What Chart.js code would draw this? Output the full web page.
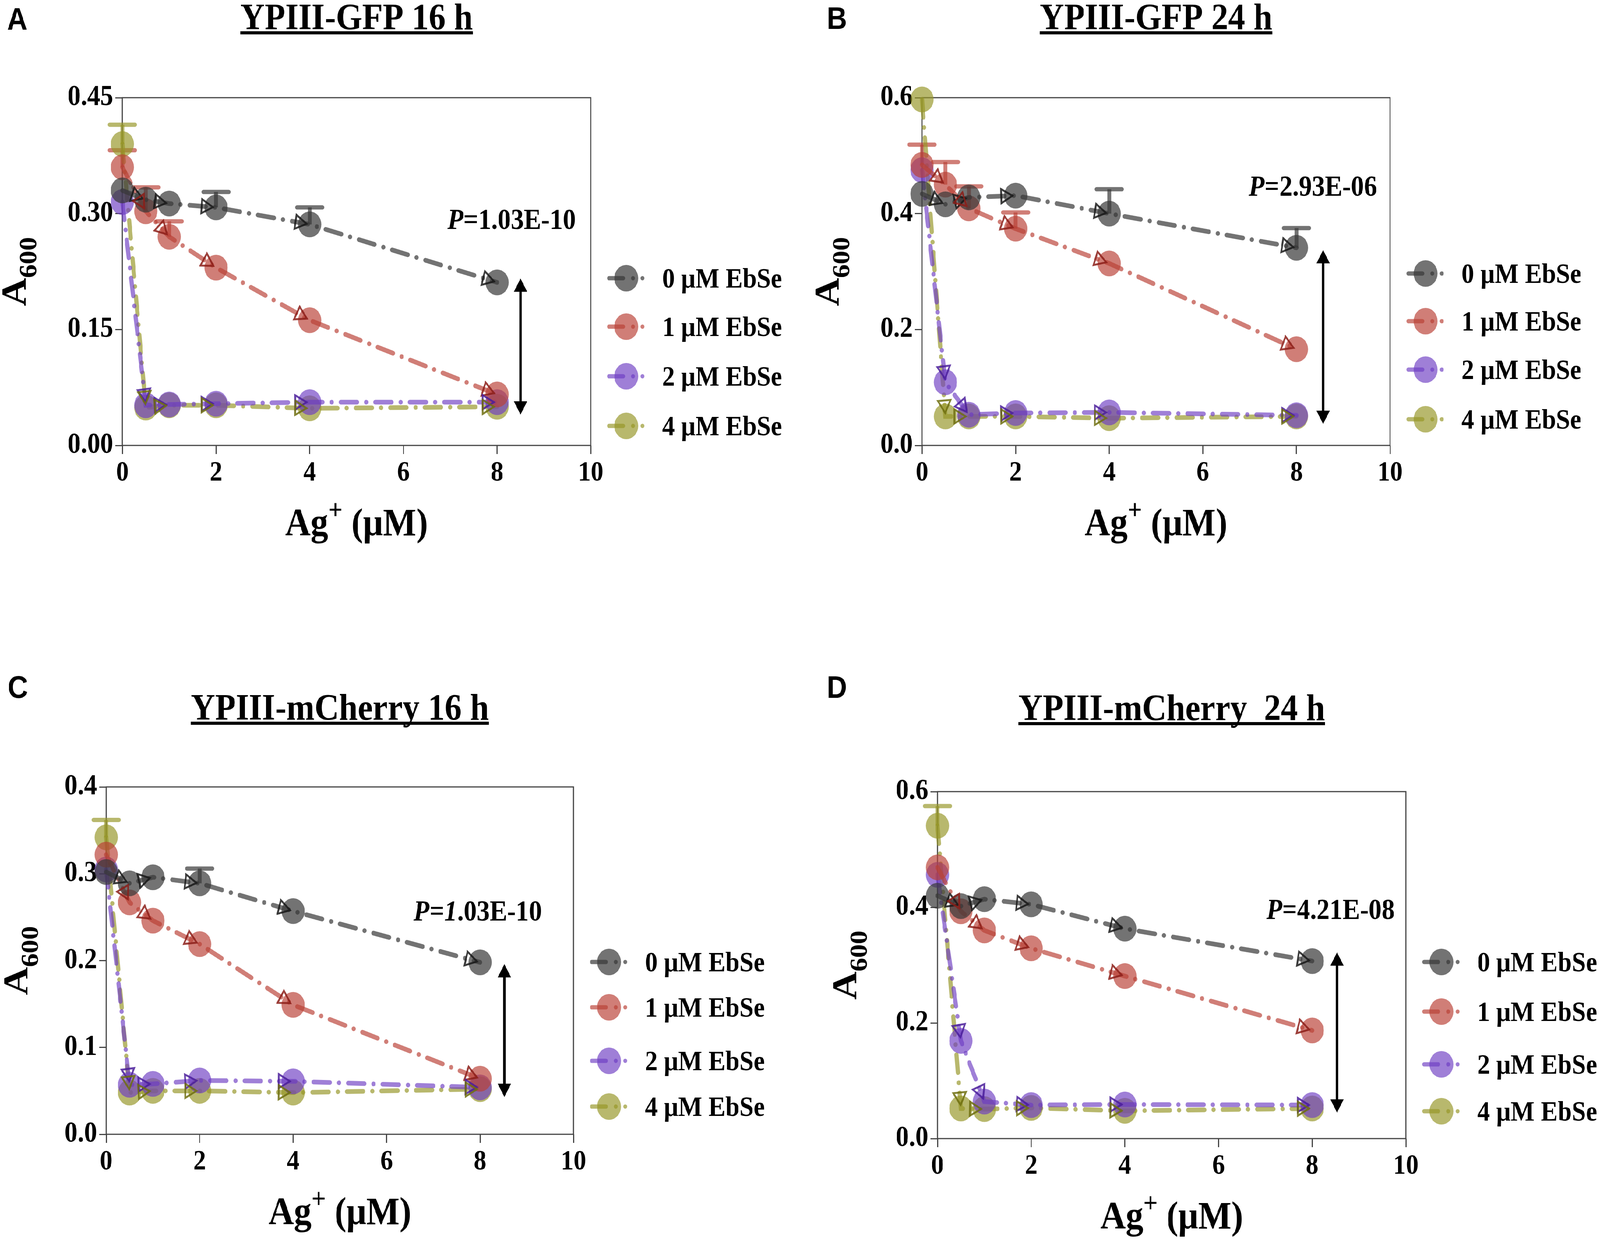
<!DOCTYPE html>
<html>
<head>
<meta charset="utf-8">
<script src="https://cdn.jsdelivr.net/npm/chart.js@4.4.1/dist/chart.umd.min.js"></script>
<style>
html,body{margin:0;padding:0;background:#fff;overflow:hidden}
#page{position:absolute;left:0;top:0;width:4550px;height:3171px;transform-origin:0 0;background:#fff}
.panel{position:absolute;width:2275px;height:1585px}
canvas{display:block}
</style>
</head>
<body>
<div id="page">
<div class="panel" style="left:0;top:0"><canvas id="cA" width="2275" height="1585"></canvas></div>
<div class="panel" style="left:2275px;top:0"><canvas id="cB" width="2275" height="1585"></canvas></div>
<div class="panel" style="left:0;top:1585px"><canvas id="cC" width="2275" height="1585"></canvas></div>
<div class="panel" style="left:2275px;top:1585px"><canvas id="cD" width="2275" height="1585"></canvas></div>
</div>
<script>
// fit the 4550x3171 composition into whatever viewport the page gets
(function () {
  const sx = (window.innerWidth || 4550) / 4550, sy = (window.innerHeight || 3171) / 3171;
  document.getElementById('page').style.transform = 'scale(' + sx + ',' + sy + ')';
})();

// ---------- data ----------
const agConc = [0, 0.5, 1, 2, 4, 8];
const xTicks = [0, 2, 4, 6, 8, 10];
const legendLabels = ['0 \u03bcM EbSe', '1 \u03bcM EbSe', '2 \u03bcM EbSe', '4 \u03bcM EbSe'];

// A: YPIII-GFP 16 h
const gfp16_0 = [0.330, 0.318, 0.313, 0.308, 0.286, 0.211];
const gfp16_1 = [0.360, 0.303, 0.270, 0.230, 0.162, 0.066];
const gfp16_2 = [0.315, 0.052, 0.053, 0.054, 0.056, 0.056];
const gfp16_4 = [0.390, 0.049, 0.052, 0.052, 0.048, 0.050];
const gfp16_err0 = [null, null, null, 0.020, 0.022, null];
const gfp16_err1 = [0.022, 0.031, 0.020, null, null, null];
const gfp16_err2 = [null, null, null, null, null, null];
const gfp16_err4 = [0.025, null, null, null, null, null];
const yTicksA = [0, 0.15, 0.30, 0.45];

// B: YPIII-GFP 24 h
const gfp24_0 = [0.434, 0.416, 0.428, 0.431, 0.400, 0.341];
const gfp24_1 = [0.484, 0.450, 0.409, 0.374, 0.314, 0.166];
const gfp24_2 = [0.475, 0.109, 0.053, 0.056, 0.057, 0.052];
const gfp24_4 = [0.597, 0.050, 0.050, 0.050, 0.047, 0.050];
const gfp24_err0 = [null, null, null, null, 0.042, 0.034];
const gfp24_err1 = [0.035, 0.039, 0.038, 0.028, null, null];
const gfp24_err2 = [null, null, null, null, null, null];
const gfp24_err4 = [null, null, null, null, null, null];
const yTicksB = [0, 0.2, 0.4, 0.6];

// C: YPIII-mCherry 16 h
const mch16_0 = [0.302, 0.289, 0.296, 0.289, 0.257, 0.198];
const mch16_1 = [0.322, 0.267, 0.246, 0.219, 0.149, 0.064];
const mch16_2 = [0.305, 0.057, 0.058, 0.062, 0.061, 0.054];
const mch16_4 = [0.342, 0.048, 0.050, 0.050, 0.048, 0.052];
const mch16_err0 = [null, null, null, 0.017, null, null];
const mch16_err1 = [null, null, null, null, null, null];
const mch16_err2 = [null, null, null, null, null, null];
const mch16_err4 = [0.020, null, null, null, null, null];
const yTicksC = [0, 0.1, 0.2, 0.3, 0.4];

// D: YPIII-mCherry 24 h
const mch24_0 = [0.420, 0.402, 0.414, 0.405, 0.363, 0.307];
const mch24_1 = [0.469, 0.393, 0.360, 0.329, 0.281, 0.187];
const mch24_2 = [0.456, 0.169, 0.064, 0.058, 0.059, 0.058];
const mch24_4 = [0.541, 0.052, 0.051, 0.053, 0.048, 0.052];
const mch24_err0 = [null, null, null, null, null, null];
const mch24_err1 = [null, null, null, null, null, null];
const mch24_err2 = [null, null, null, null, null, null];
const mch24_err4 = [0.034, null, null, null, null, null];
const yTicksD = [0, 0.2, 0.4, 0.6];

// P-value annotations (text, x, y in data units) and double arrows (x, top, bottom)
const pTexts = [['P', '=1.03E-10'], ['P', '=2.93E-06'], ['P=1', '.03E-10'], ['P', '=4.21E-08']];
const pAnchorX = [9.68, 9.72, 9.32, 9.76];
const pAnchorY = [0.280, 0.431, 0.246, 0.380];
const arrowX = [8.50, 8.57, 8.52, 8.53];
const arrowTop = [0.216, 0.337, 0.196, 0.322];
const arrowBottom = [0.040, 0.037, 0.043, 0.045];

// ---------- styles ----------
const seriesColors = ['rgba(55,55,55,0.70)', 'rgba(185,65,55,0.68)', 'rgba(110,60,195,0.66)', 'rgba(150,150,40,0.68)'];
const headColors = ['rgba(25,25,25,0.85)', 'rgba(140,30,25,0.85)', 'rgba(75,30,155,0.85)', 'rgba(110,110,15,0.85)'];
const SERIF = '"Liberation Serif", "Times New Roman", serif';
const DASH = [46, 26, 0.1, 26];

const panels = [
  {id:'cA', title:'YPIII-GFP 16 h', label:'A', series:[gfp16_0,gfp16_1,gfp16_2,gfp16_4], errs:[gfp16_err0,gfp16_err1,gfp16_err2,gfp16_err4], yTicks:yTicksA, dec:2,
   g:{L:348,R:1680,T:250,B:1140,titleY:75,labelX:20,labelY:76,yTitleX:73,legY:[712,836,963,1090]}},
  {id:'cB', title:'YPIII-GFP 24 h', label:'B', series:[gfp24_0,gfp24_1,gfp24_2,gfp24_4], errs:[gfp24_err0,gfp24_err1,gfp24_err2,gfp24_err4], yTicks:yTicksB, dec:1,
   g:{L:347,R:1678,T:250,B:1140,titleY:75,labelX:76,labelY:74,yTitleX:110,legY:[700,822,946,1073]}},
  {id:'cC', title:'YPIII-mCherry 16 h', label:'C', series:[mch16_0,mch16_1,mch16_2,mch16_4], errs:[mch16_err0,mch16_err1,mch16_err2,mch16_err4], yTicks:yTicksC, dec:1,
   g:{L:302,R:1631,T:429,B:1318,titleY:257,labelX:22,labelY:201,yTitleX:78,legY:[877,993,1130,1247]}},
  {id:'cD', title:'YPIII-mCherry_24 h', label:'D', series:[mch24_0,mch24_1,mch24_2,mch24_4], errs:[mch24_err0,mch24_err1,mch24_err2,mch24_err4], yTicks:yTicksD, dec:1,
   g:{L:391,R:1723,T:441,B:1329,titleY:258,labelX:76,labelY:201,yTitleX:160,legY:[877,1004,1139,1259]}}
];

function drawParts(ctx, parts, x, y, align) {
  let total = 0;
  parts.forEach(p => { ctx.font = p.font; p.w = ctx.measureText(p.t).width; total += p.w; });
  let cx = align === 'right' ? x - total : (align === 'center' ? x - total / 2 : x);
  parts.forEach(p => { ctx.font = p.font; ctx.textAlign = 'left'; ctx.textBaseline = 'alphabetic'; ctx.fillText(p.t, cx, y + (p.dy || 0)); cx += p.w; });
  return total;
}

const decor = {
  id: 'decor',
  beforeDatasetsDraw(chart, args, o) {
    const ctx = chart.ctx, ys = chart.scales.y, ca = chart.chartArea;
    ctx.save();
    ctx.strokeStyle = '#444'; ctx.lineWidth = 3;
    ctx.strokeRect(ca.left, ca.top, ca.right - ca.left, ca.bottom - ca.top);
    ctx.restore();
    chart.data.datasets.forEach((ds, di) => {
      const errs = o.errs[di]; const meta = chart.getDatasetMeta(di);
      ctx.save(); ctx.strokeStyle = ds.borderColor; ctx.lineWidth = 11;
      errs.forEach((e, i) => {
        if (e == null) return;
        const pt = meta.data[i];
        const ty = ys.getPixelForValue(ds.data[i].y + e);
        ctx.lineCap = 'butt';
        ctx.beginPath(); ctx.moveTo(pt.x, pt.y); ctx.lineTo(pt.x, ty); ctx.stroke();
        ctx.lineCap = 'round';
        ctx.beginPath(); ctx.moveTo(pt.x - 36, ty); ctx.lineTo(pt.x + 36, ty); ctx.stroke();
      });
      ctx.restore();
    });
  },
  afterDatasetsDraw(chart, args, o) {
    const ctx = chart.ctx, xs = chart.scales.x, ys = chart.scales.y;
    // arrowheads on each segment
    chart.data.datasets.forEach((ds, di) => {
      const meta = chart.getDatasetMeta(di);
      ctx.save(); ctx.strokeStyle = headColors[di]; ctx.lineWidth = 5; ctx.lineJoin = 'miter';
      for (let i = 0; i < meta.data.length - 1; i++) {
        const a = meta.data[i], b = meta.data[i + 1];
        const dx = b.x - a.x, dy = b.y - a.y, len = Math.hypot(dx, dy);
        if (len < 40) continue;
        const ux = dx / len, uy = dy / len, px = -uy, py = ux;
        const tx = b.x - ux * 9, ty = b.y - uy * 9;
        const bx = tx - ux * 32, by = ty - uy * 32;
        ctx.beginPath();
        ctx.moveTo(tx, ty);
        ctx.lineTo(bx + px * 18, by + py * 18);
        ctx.lineTo(bx - px * 18, by - py * 18);
        ctx.closePath(); ctx.stroke();
      }
      ctx.restore();
    });
    // double arrow
    const ax = xs.getPixelForValue(o.arrow[0]);
    const at = ys.getPixelForValue(o.arrow[1]);
    const ab = ys.getPixelForValue(o.arrow[2]);
    ctx.save();
    ctx.fillStyle = '#000'; ctx.strokeStyle = '#000'; ctx.lineWidth = 7;
    ctx.beginPath(); ctx.moveTo(ax, at + 28); ctx.lineTo(ax, ab - 28); ctx.stroke();
    ctx.beginPath(); ctx.moveTo(ax, at); ctx.lineTo(ax - 19, at + 34); ctx.lineTo(ax + 19, at + 34); ctx.closePath(); ctx.fill();
    ctx.beginPath(); ctx.moveTo(ax, ab); ctx.lineTo(ax - 19, ab - 34); ctx.lineTo(ax + 19, ab - 34); ctx.closePath(); ctx.fill();
    // P value
    ctx.fillStyle = '#000';
    drawParts(ctx, [
      {t: o.p[0], font: 'italic bold 74px ' + SERIF},
      {t: o.p[1], font: 'bold 74px ' + SERIF}
    ], xs.getPixelForValue(o.pX), ys.getPixelForValue(o.pY), 'right');
    ctx.restore();
  },
  afterDraw(chart, args, o) {
    const ctx = chart.ctx, ca = chart.chartArea, g = o.g;
    const cx = (ca.left + ca.right) / 2, cy = (ca.top + ca.bottom) / 2;
    ctx.save();
    ctx.fillStyle = '#000';
    // panel label
    ctx.font = 'bold 80px "Liberation Sans", Arial, sans-serif';
    ctx.textAlign = 'left'; ctx.textBaseline = 'alphabetic';
    ctx.fillText(o.label, g.labelX, g.labelY);
    // title with underline
    ctx.font = 'bold 96px ' + SERIF;
    const tw = ctx.measureText(o.title).width;
    ctx.textAlign = 'center';
    ctx.fillText(o.title, cx, g.titleY);
    ctx.fillRect(cx - tw / 2, g.titleY + 5, tw, 8);
    // x axis title
    drawParts(ctx, [
      {t: 'Ag', font: 'bold 100px ' + SERIF},
      {t: '+', font: 'bold 72px ' + SERIF, dy: -42},
      {t: ' (\u03bcM)', font: 'bold 100px ' + SERIF}
    ], cx, ca.bottom + 230, 'center');
    // y axis title (rotated)
    ctx.translate(g.yTitleX, cy);
    ctx.rotate(-Math.PI / 2);
    drawParts(ctx, [
      {t: 'A', font: 'bold 100px ' + SERIF},
      {t: '600', font: 'bold 70px ' + SERIF, dy: 30}
    ], 0, 0, 'center');
    ctx.setTransform(1, 0, 0, 1, 0, 0);
    // legend
    const mx = ca.right + 101, tx = ca.right + 203;
    chart.data.datasets.forEach((ds, di) => {
      const y = g.legY[di];
      ctx.fillStyle = seriesColors[di];
      ctx.beginPath(); ctx.arc(mx, y, 34, 0, Math.PI * 2); ctx.fill();
      ctx.strokeStyle = seriesColors[di]; ctx.lineWidth = 11; ctx.lineCap = 'round';
      ctx.beginPath(); ctx.moveTo(mx - 49, y); ctx.lineTo(mx - 9, y); ctx.stroke();
      ctx.beginPath(); ctx.moveTo(mx + 19, y); ctx.lineTo(mx + 19.1, y); ctx.stroke();
      ctx.beginPath(); ctx.moveTo(mx + 46, y); ctx.lineTo(mx + 46.1, y); ctx.stroke();
      ctx.fillStyle = '#000';
      ctx.font = 'bold 72px ' + SERIF; ctx.textAlign = 'left'; ctx.textBaseline = 'alphabetic';
      ctx.fillText(ds.label, tx, y + 24);
    });
    ctx.restore();
  }
};

panels.forEach((p, pi) => {
  const W = 2275, H = 1585, YW = 200, XH = 150, g = p.g;
  const datasets = p.series.map((vals, si) => ({
    label: legendLabels[si],
    data: agConc.map((x, i) => ({x: x, y: vals[i]})),
    borderColor: seriesColors[si],
    backgroundColor: seriesColors[si],
    pointBackgroundColor: seriesColors[si],
    pointBorderWidth: 0,
    pointRadius: 33,
    pointHoverRadius: 33,
    borderWidth: 12,
    borderDash: DASH,
    borderCapStyle: 'round',
    tension: 0,
    fill: false,
    clip: false
  }));
  const yT = p.yTicks, dec = p.dec;
  new Chart(document.getElementById(p.id), {
    type: 'line',
    data: {datasets},
    plugins: [decor],
    options: {
      responsive: false,
      animation: false,
      devicePixelRatio: 1,
      events: [],
      layout: {padding: {left: g.L - YW, right: W - g.R, top: g.T, bottom: H - g.B - XH}},
      plugins: {
        legend: {display: false},
        tooltip: {enabled: false},
        title: {display: false},
        decor: {
          g: g, title: p.title, label: p.label, errs: p.errs,
          p: pTexts[pi], pX: pAnchorX[pi], pY: pAnchorY[pi],
          arrow: [arrowX[pi], arrowTop[pi], arrowBottom[pi]]
        }
      },
      scales: {
        x: {
          type: 'linear', min: 0, max: 10,
          afterBuildTicks: s => { s.ticks = xTicks.map(v => ({value: v})); },
          afterFit: s => { s.height = XH; },
          grid: {drawOnChartArea: false, drawTicks: true, tickLength: 22, color: '#444', lineWidth: 3},
          border: {display: false},
          ticks: {color: '#000', padding: 6, maxRotation: 0, autoSkip: false,
                  font: {family: 'Liberation Serif', weight: 'bold', size: 72},
                  callback: v => String(v)}
        },
        y: {
          type: 'linear', min: 0, max: yT[yT.length - 1],
          afterBuildTicks: s => { s.ticks = yT.map(v => ({value: v})); },
          afterFit: s => { s.width = YW; },
          grid: {drawOnChartArea: false, drawTicks: true, tickLength: 20, color: '#444', lineWidth: 3},
          border: {display: false},
          ticks: {color: '#000', padding: 6, autoSkip: false,
                  font: {family: 'Liberation Serif', weight: 'bold', size: 74},
                  callback: v => Number(v).toFixed(dec)}
        }
      }
    }
  });
});
</script>
</body>
</html>
